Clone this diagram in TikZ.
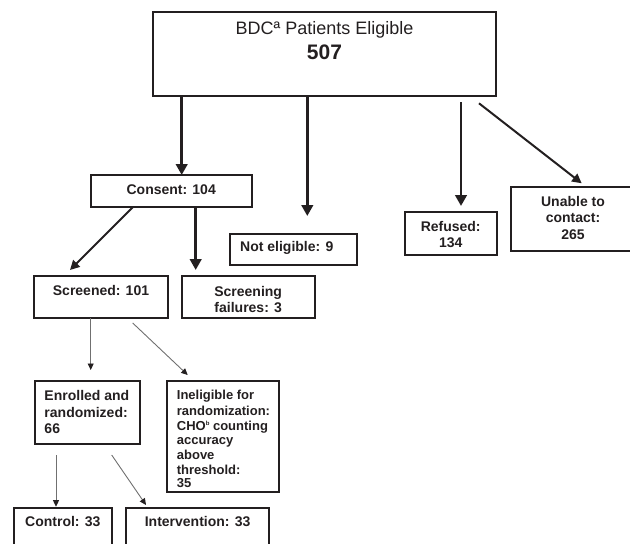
\documentclass[tikz,border=0pt]{standalone}
\usepackage{fontspec}
\setmainfont{Liberation Sans}
\usetikzlibrary{arrows.meta,calc}
\definecolor{ink}{HTML}{231F20}
\definecolor{thinline}{HTML}{707070}
\begin{document}
\begin{tikzpicture}[x=1pt,y=-1pt,
  box/.style={draw=ink,line width=1.7pt,anchor=north west,inner sep=0pt,outer sep=0pt},
  txt/.style={text=ink,font=\fontsize{14}{16.3}\selectfont\bfseries,anchor=base,inner sep=0pt},
  heavy/.style={draw=ink,line width=2.8pt,-{Triangle[length=11pt,width=11.5pt]}},
  medium/.style={draw=ink,line width=2pt,-{Triangle[length=9.5pt,width=9.5pt]}},
  light/.style={draw=thinline,line width=0.9pt,-{Triangle[length=6.5pt,width=6pt,color=ink,fill=ink]}}]
\useasboundingbox (0,0) rectangle (630,544);
\clip (0,0) rectangle (630,544);
% boxes
\node[box,minimum width=342.7pt,minimum height=83.7pt] (top) at (153.3,12.3) {};
\node[box,minimum width=161pt,minimum height=32.3pt] (consent) at (90.7,175) {};
\node[box,minimum width=126.7pt,minimum height=31pt] (notel) at (230,234) {};
\node[box,minimum width=92pt,minimum height=42.7pt] (refused) at (404.7,212.3) {};
\node[box,minimum width=124pt,minimum height=63.4pt] (unable) at (510.7,187.3) {};
\node[box,minimum width=133.7pt,minimum height=42pt] (screened) at (34,275.7) {};
\node[box,minimum width=133pt,minimum height=42pt] (sf) at (181.7,275.7) {};
\node[box,minimum width=105pt,minimum height=63.6pt] (enrolled) at (35,380.7) {};
\node[box,minimum width=112pt,minimum height=111.3pt] (inel) at (167.3,381) {};
\node[box,minimum width=97.7pt,minimum height=50pt] (control) at (14,507.7) {};
\node[box,minimum width=143.3pt,minimum height=50pt] (interv) at (126,507.7) {};
% texts (base anchor = baseline of the last line)
\node[txt,font=\fontsize{18}{20}\selectfont] (ttop) at (324.5,34.7) {BDCª Patients Eligible};
\node[txt,font=\fontsize{21}{24}\selectfont\bfseries] (tnum) at (324.5,59.3) {507};
\node[txt] (tconsent) at (171.2,194.3) {Consent: 104};
\node[txt,anchor=base west] (tnotel) at (240,251.7) {Not eligible: 9};
\node[txt,align=center] (trefused) at (450.7,247.7) {Refused:\\134};
\node[txt,align=center] (tunable) at (573,239) {Unable to\\contact:\\265};
\node[txt] (tscreened) at (101,295) {Screened: 101};
\node[txt,align=center] (tsf) at (248.2,312.3) {Screening\\failures: 3};
\node[txt,anchor=base west,align=left] (tenrolled) at (44.3,433.3) {Enrolled and\\randomized:\\66};
\node[txt,anchor=base west,align=left,font=\fontsize{13}{15}\selectfont\bfseries] (tinel) at (176.7,487.4)
  {Ineligible for\\[1pt]randomization:\\[-0.7pt]CHO\raisebox{4.5pt}{\fontsize{6}{6}\selectfont b} counting\\[-0.5pt]accuracy\\above\\threshold:\\[-2.2pt]35};
\node[txt] (tcontrol) at (62.8,526) {Control: 33};
\node[txt] (tinterv) at (197.6,526) {Intervention: 33};
% connectors
\draw[heavy] ($(top.south west)+(28.4,0)$) -- ($(consent.north west)+(91,0)$);
\draw[heavy] ($(top.south west)+(154,0)$) -- ($(notel.north west)+(77.3,-18)$);
\draw[heavy] ($(top.south west)+(307.7,6)$) -- ($(refused.north west)+(56.3,-6.3)$);
\draw[medium] ($(top.south east)+(-17,7.3)$) -- ($(unable.north west)+(71,-4)$);
\draw[medium] ($(consent.south west)+(42,0)$) -- ($(screened.north west)+(36,-5.7)$);
\draw[heavy] ($(consent.south west)+(105,0)$) -- ($(sf.north west)+(14,-5.7)$);
\draw[light] ($(screened.south west)+(56.7,0)$) -- ($(enrolled.north west)+(55.7,-10.7)$);
\draw[light] ($(screened.south west)+(98.7,5.3)$) -- ($(inel.north west)+(20.4,-6)$);
\draw[light] ($(enrolled.south west)+(21,10.7)$) -- ($(control.north west)+(42,-1)$);
\draw[light] ($(enrolled.south west)+(76.7,10.7)$) -- ($(interv.north west)+(20,-2.7)$);
\end{tikzpicture}
\end{document}
